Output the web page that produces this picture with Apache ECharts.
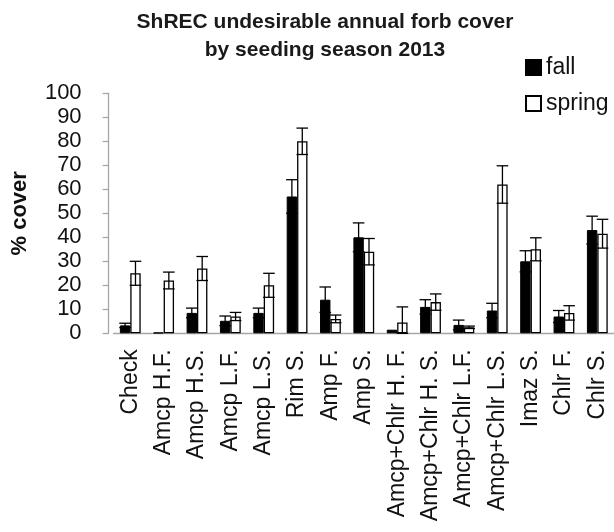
<!DOCTYPE html>
<html><head><meta charset="utf-8">
<script src="https://cdn.jsdelivr.net/npm/echarts@6/dist/echarts.min.js"></script>
<style>html,body{margin:0;padding:0;background:#fff}#c{width:614px;height:532px}</style>
</head><body><div id="c"></div>
<script>
const categories = ['Check','Amcp H.F.','Amcp H.S.','Amcp L.F.','Amcp L.S.','Rim S.','Amp F.','Amp S.','Amcp+Chlr H. F.','Amcp+Chlr H. S.','Amcp+Chlr L.F.','Amcp+Chlr L.S.','Imaz S.','Chlr F.','Chlr S.'];
const fallValues   = [3.3, 0.3, 8.5, 5.2, 8.5, 57, 14, 40, 1.5, 11, 3.5, 9.5, 30, 7, 43];
const fallErrors   = [0.9, 0, 2, 2, 2, 7, 5.3, 6, 0, 3, 2, 3, 4.4, 2.5, 5.8];
const springValues = [25, 22, 27, 7, 20, 80, 6, 34, 4.5, 13, 2.5, 62, 35, 8.5, 41.5];
const springErrors = [5, 3.5, 5, 1.7, 5, 5.5, 1.6, 5.5, 6.5, 3.4, 0.5, 7.8, 4.8, 3, 6];
const seriesNames = ['fall', 'spring'];
const titleText = 'ShREC undesirable annual forb cover\nby seeding season 2013';
const yAxisTitle = '% cover';

const FONT = 'Liberation Sans';
const BAR_W = 10.4;
const AXIS_GRAY = '#a6a6a6';

function errRender(side) {
  return function (params, api) {
    const i = api.value(0), v = api.value(1), e = api.value(2);
    if (!e) return { type: 'group', children: [] };
    const c = api.coord([i, v]);
    const x = c[0] + side * BAR_W / 2;
    const top = api.coord([i, v + e])[1];
    const bot = api.coord([i, Math.max(0, v - e)])[1];
    const cap = 5.8;
    const style = { stroke: '#000', lineWidth: 1.3, fill: null };
    return { type: 'group', children: [
      { type: 'line', shape: { x1: x, y1: top, x2: x, y2: bot }, style },
      { type: 'line', shape: { x1: x - cap, y1: top, x2: x + cap, y2: top }, style },
      { type: 'line', shape: { x1: x - cap, y1: bot, x2: x + cap, y2: bot }, style }
    ]};
  };
}

const chart = echarts.init(document.getElementById('c'), null, { renderer: 'canvas' });
chart.setOption({
  animation: false,
  backgroundColor: '#fff',
  textStyle: { fontFamily: FONT },
  title: {
    text: titleText, left: 325, top: 8, padding: 0, textAlign: 'center',
    textStyle: { fontFamily: FONT, fontSize: 21, fontWeight: 'bold', color: '#1a1a1a', lineHeight: 28 }
  },
  legend: {
    data: seriesNames, orient: 'vertical', left: 525, top: 56, padding: 0,
    icon: 'rect', itemWidth: 15, itemHeight: 15, itemGap: 13, itemTextGap: 7,
    textStyle: { fontFamily: FONT, fontSize: 23, color: '#111' }
  },
  grid: { left: 113.6, top: 93.3, width: 507, height: 240, containLabel: false },
  xAxis: {
    type: 'category', data: categories,
    axisLine: { lineStyle: { color: AXIS_GRAY, width: 1.3 } },
    axisTick: { show: false },
    axisLabel: { rotate: 90, interval: 0, fontSize: 23, color: '#111', margin: 16, fontFamily: FONT }
  },
  yAxis: {
    type: 'value', min: 0, max: 100, interval: 10, offset: 5,
    name: yAxisTitle, nameLocation: 'middle', nameGap: 78,
    nameTextStyle: { fontSize: 22, fontWeight: 'bold', color: '#111', fontFamily: FONT },
    axisLine: { show: true, lineStyle: { color: AXIS_GRAY, width: 1.3 } },
    axisTick: { show: true, length: 6, lineStyle: { color: AXIS_GRAY, width: 1.3 } },
    axisLabel: { fontSize: 22, color: '#111', margin: 27, fontFamily: FONT },
    splitLine: { show: false }
  },
  series: [
    { name: seriesNames[0], type: 'bar', data: fallValues, barWidth: BAR_W, barGap: '0%',
      itemStyle: { color: '#000', borderColor: '#000', borderWidth: 1 } },
    { name: seriesNames[1], type: 'bar', data: springValues, barWidth: BAR_W, barGap: '0%',
      itemStyle: { color: '#fff', borderColor: '#000', borderWidth: 1.3 } },
    { type: 'custom', renderItem: errRender(-1), encode: { x: 0, y: 1 }, z: 5,
      data: categories.map((c, i) => [i, fallValues[i], fallErrors[i]]) },
    { type: 'custom', renderItem: errRender(1), encode: { x: 0, y: 1 }, z: 5,
      data: categories.map((c, i) => [i, springValues[i], springErrors[i]]) }
  ]
});
</script></body></html>
